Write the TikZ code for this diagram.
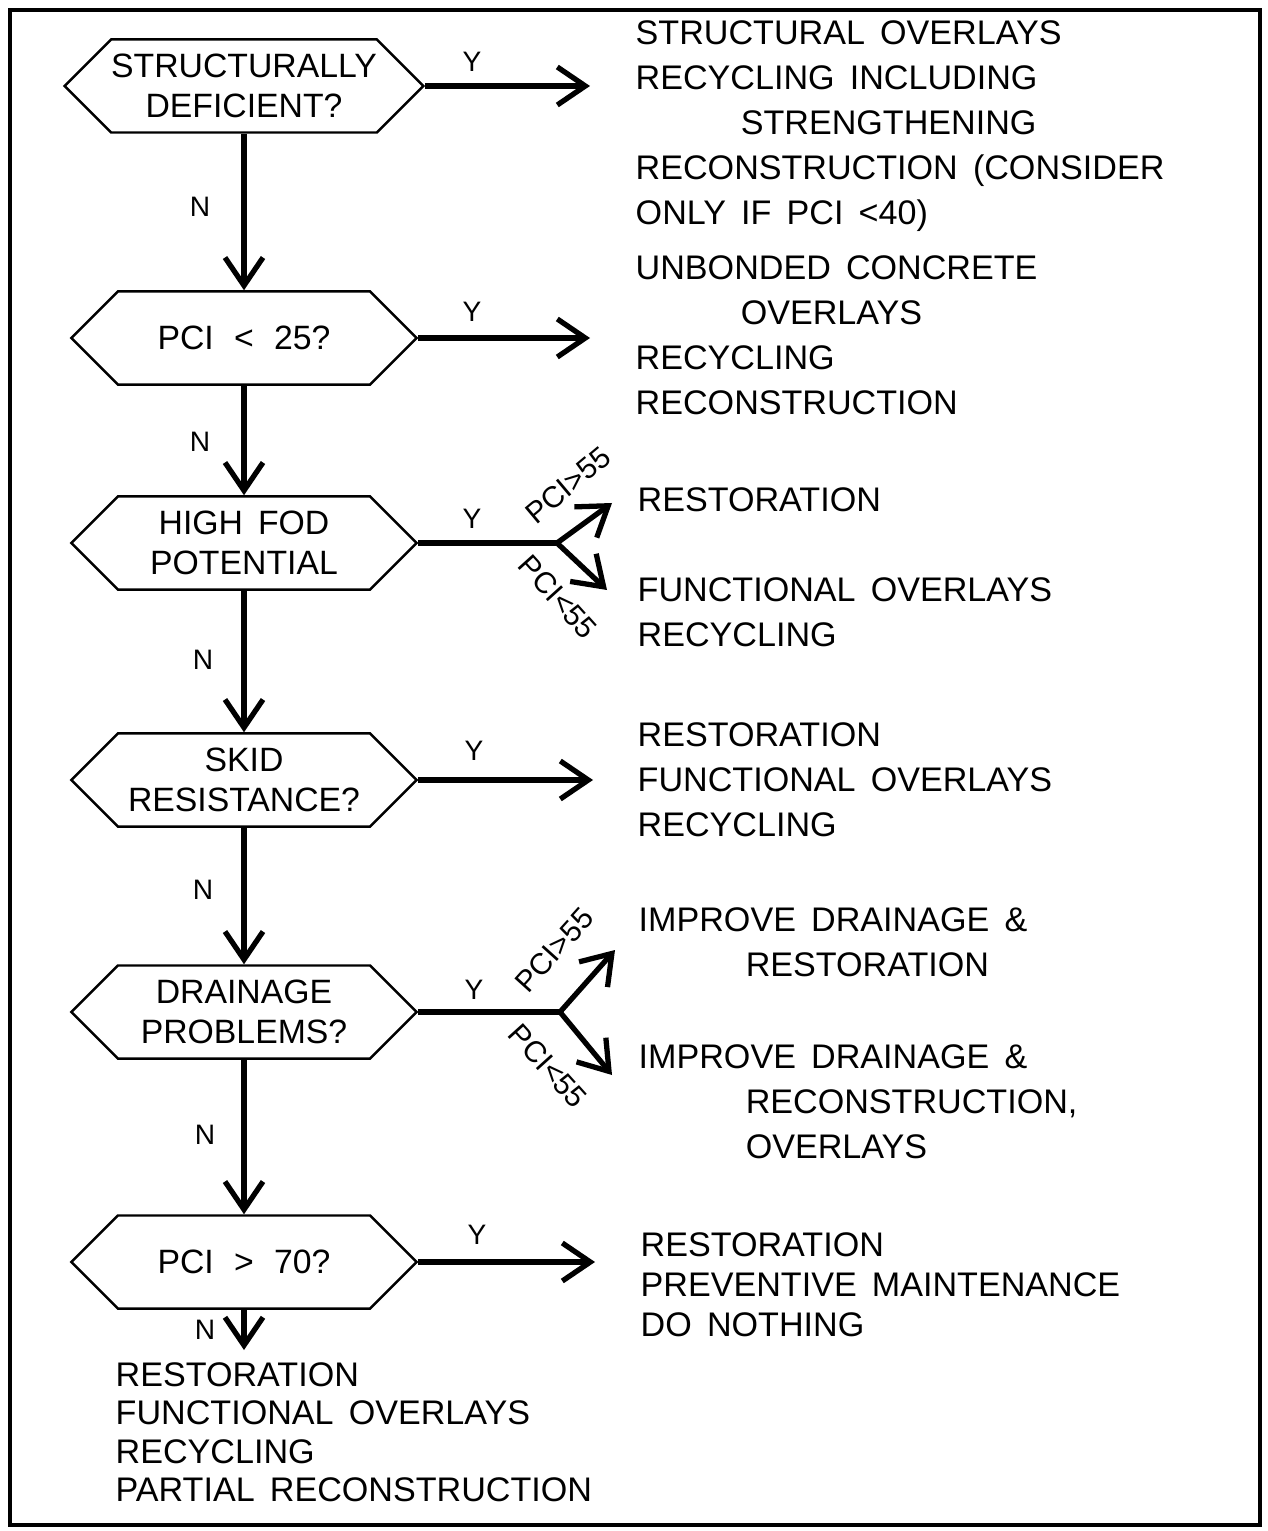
\documentclass[tikz,border=0pt]{standalone}
\usepackage{fontspec}
\setmainfont{Liberation Sans}[WordSpace=1.6]
\usetikzlibrary{shapes.symbols,arrows.meta}

\tikzset{
  decision/.style={draw, line width=0.7pt, shape=signal, signal to=west and east,
    signal pointer angle=90, minimum width=3.45cm, minimum height=0.93cm,
    inner sep=0pt, align=center, font=\fontsize{9.6}{11.4}\selectfont},
  flow/.style={line width=1.5pt, -{Straight Barb[length=2.8mm,width=3.8mm]}},
  answer/.style={anchor=north west, inner sep=0pt, align=left,
    font=\fontsize{9.7}{12.8}\selectfont},
  yn/.style={inner sep=0pt, font=\fontsize{8}{9}\selectfont},
  pcilabel/.style={inner sep=0pt, font=\fontsize{8.5}{9}\selectfont}
}

\begin{document}
\begin{tikzpicture}[x=0.01cm, y=-0.01cm]
    \useasboundingbox (0,0) rectangle (1268,1531);
    \draw[line width=1.3pt] (10,10) rectangle (1260,1525);

    % decisions
    \node[decision] (h1) at (244,86) {STRUCTURALLY\\DEFICIENT?};
    \node[decision] (h2) at (244,338) {PCI\hspace{0.6em}<\hspace{0.6em}25?};
    \node[decision] (h3) at (244,543) {HIGH FOD\\POTENTIAL};
    \node[decision] (h4) at (244,780) {SKID\\RESISTANCE?};
    \node[decision] (h5) at (244,1012) {DRAINAGE\\PROBLEMS?};
    \node[decision] (h6) at (244,1262) {PCI\hspace{0.6em}>\hspace{0.6em}70?};

    % free ends
    \coordinate (e1) at (590,86);
    \coordinate (e2) at (590,338);
    \coordinate (j3) at (557,543);
    \coordinate (u3) at (612,503);
    \coordinate (l3) at (607,590);
    \coordinate (e4) at (593,780);
    \coordinate (j5) at (560,1012);
    \coordinate (u5) at (615,950);
    \coordinate (l5) at (612,1075);
    \coordinate (e6) at (595,1262);
    \coordinate (n6) at (244,1350);

    % answers
    \node[answer] (s1) at (635,20) {STRUCTURAL OVERLAYS\\RECYCLING INCLUDING\\\hspace*{1.05cm}STRENGTHENING\\RECONSTRUCTION (CONSIDER\\ONLY IF PCI <40)};
    \node[answer] (s2) at (635,255) {UNBONDED CONCRETE\\\hspace*{1.05cm}OVERLAYS\\RECYCLING\\RECONSTRUCTION};
    \node[answer] (s3a) at (637,487) {RESTORATION};
    \node[answer] (s3b) at (637,577) {FUNCTIONAL OVERLAYS\\RECYCLING};
    \node[answer] (s4) at (637,722) {RESTORATION\\FUNCTIONAL OVERLAYS\\RECYCLING};
    \node[answer] (s5a) at (638,907) {IMPROVE DRAINAGE \&\\\hspace*{1.07cm}RESTORATION};
    \node[answer] (s5b) at (638,1044) {IMPROVE DRAINAGE \&\\\hspace*{1.07cm}RECONSTRUCTION,\\\hspace*{1.07cm}OVERLAYS};
    \node[answer, font=\fontsize{9.7}{11.4}\selectfont] (s6) at (640,1232) {RESTORATION\\PREVENTIVE MAINTENANCE\\DO NOTHING};
    \node[answer, font=\fontsize{9.7}{10.9}\selectfont] (s7) at (115,1362) {RESTORATION\\FUNCTIONAL OVERLAYS\\RECYCLING\\PARTIAL RECONSTRUCTION};

    % connectors
    \draw[flow] (h1.south) -- (h2.north);
    \draw[flow] (h2.south) -- (h3.north);
    \draw[flow] (h3.south) -- (h4.north);
    \draw[flow] (h4.south) -- (h5.north);
    \draw[flow] (h5.south) -- (h6.north);
    \draw[flow] (h6.south) -- (n6);

    \draw[flow] (h1.east) -- (e1);
    \draw[flow] (h2.east) -- (e2);
    \draw[line width=1.5pt] (h3.east) -- (j3);
    \draw[flow] (j3) -- (u3);
    \draw[flow] (j3) -- (l3);
    \draw[flow] (h4.east) -- (e4);
    \draw[line width=1.5pt] (h5.east) -- (j5);
    \draw[flow] (j5) -- (u5);
    \draw[flow] (j5) -- (l5);
    \draw[flow] (h6.east) -- (e6);

    % labels
    \node[yn] (y1) at (472,62) {Y};
    \node[yn] (y2) at (472,312) {Y};
    \node[yn] (y3) at (472,519) {Y};
    \node[yn] (y4) at (474,751) {Y};
    \node[yn] (y5) at (474,990) {Y};
    \node[yn] (y6) at (477,1235) {Y};
    \node[yn] (n1) at (200,207) {N};
    \node[yn] (n2) at (200,442) {N};
    \node[yn] (n3) at (203,660) {N};
    \node[yn] (n4) at (203,890) {N};
    \node[yn] (n5) at (205,1135) {N};
    \node[yn] (n6l) at (205,1330) {N};
    \node[pcilabel, rotate=40] (p3a) at (568,485) {PCI>55};
    \node[pcilabel, rotate=-48] (p3b) at (558,597) {PCI<55};
    \node[pcilabel, rotate=48] (p5a) at (554,950) {PCI>55};
    \node[pcilabel, rotate=-48] (p5b) at (548,1066) {PCI<55};
\end{tikzpicture}
\end{document}
